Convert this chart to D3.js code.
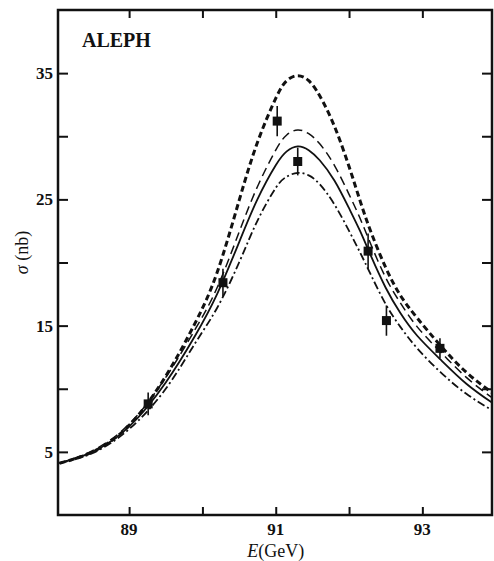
<!DOCTYPE html>
<html>
<head>
<meta charset="utf-8">
<script src="https://cdn.jsdelivr.net/npm/d3@7"></script>
<style>
  body { margin: 0; background: #fff; }
  svg { display: block; }
  text { font-family: "Liberation Serif", "DejaVu Serif", serif; fill: #111; }
</style>
</head>
<body>
<div id="chart"></div>
<script>
var energy = [88.05, 88.5, 89.0, 89.5, 89.9, 90.2, 90.5, 90.75, 91.0, 91.15, 91.3, 91.45,
              91.6, 91.8, 92.0, 92.15, 92.3, 92.5, 92.7, 92.93, 93.25, 93.6, 93.95];

// cross sections of the four curves (nb)
var heavyDash = [4.1, 5.0, 7.1, 11.0, 15.2, 19.2, 24.9, 29.5, 33.0, 34.4, 34.8, 34.4,
                 33.2, 30.8, 27.6, 24.9, 22.4, 19.6, 17.4, 15.6, 13.4, 11.3, 9.7];
var lightDash = [4.1, 5.1, 7.2, 10.9, 14.7, 18.0, 22.4, 26.0, 28.9, 30.1, 30.5, 30.2,
                 29.4, 27.7, 25.4, 23.5, 21.4, 18.8, 16.8, 14.9, 12.9, 10.9, 9.3];
var solid     = [4.1, 5.0, 7.0, 10.5, 14.2, 17.5, 21.6, 25.0, 27.7, 28.8, 29.2, 28.9,
                 28.1, 26.5, 24.3, 22.5, 20.5, 18.0, 16.0, 14.2, 12.3, 10.4, 8.9];
var dashDot   = [4.1, 4.9, 6.8, 10.0, 13.6, 16.4, 20.0, 23.3, 25.9, 26.8, 27.1, 26.9,
                 26.2, 24.6, 22.5, 20.8, 19.0, 16.7, 14.9, 13.2, 11.3, 9.6, 8.3];

// ALEPH measurements
var dataE   = [89.26, 90.28, 91.02, 91.30, 92.26, 92.51, 93.24];
var dataSig = [8.8, 18.4, 31.2, 28.0, 20.9, 15.4, 13.2];
var dataErr = [0.9, 1.1, 1.2, 1.1, 1.4, 1.2, 0.8];

// ticks
var xTicks = [89, 90, 91, 92, 93];
var xLabels = [89, 91, 93];
var yTicks = [5, 10, 15, 20, 25, 30, 35];
var yLabels = [5, 15, 25, 35];

// frame
var margin = { top: 10, right: 2, bottom: 46, left: 58 };
var W = 494, H = 561;
var width = W - margin.left - margin.right,
    height = H - margin.top - margin.bottom;

var svg = d3.select("#chart")
  .append("svg")
    .attr("width", W)
    .attr("height", H)
  .append("g")
    .attr("transform", "translate(" + margin.left + "," + margin.top + ")");

var x = d3.scaleLinear().domain([88.03, 93.95]).range([0, width]);
var y = d3.scaleLinear().domain([0, 40]).range([height, 0]);

svg.append("clipPath").attr("id", "clip")
  .append("rect").attr("width", width).attr("height", height);

// curves
var curves = [
  { vals: heavyDash, w: 3,   dash: "6,3.5" },
  { vals: lightDash, w: 1.5, dash: "9,5" },
  { vals: solid,     w: 1.8, dash: null },
  { vals: dashDot,   w: 1.8, dash: "8,3,2,3" }
];

var line = d3.line()
  .x(function(d) { return x(d[0]); })
  .y(function(d) { return y(d[1]); })
  .curve(d3.curveNatural);

svg.append("g").attr("clip-path", "url(#clip)")
  .selectAll("path")
  .data(curves)
  .enter()
  .append("path")
    .attr("d", function(c) { return line(energy.map(function(e, i) { return [e, c.vals[i]]; })); })
    .attr("fill", "none")
    .attr("stroke", "#111")
    .attr("stroke-width", function(c) { return c.w; })
    .attr("stroke-dasharray", function(c) { return c.dash; });

// data points with error bars
var pts = dataE.map(function(e, i) { return { e: e, s: dataSig[i], err: dataErr[i] }; });
var pg = svg.append("g").selectAll("g").data(pts).enter().append("g");
pg.append("line")
  .attr("x1", function(d) { return x(d.e); })
  .attr("x2", function(d) { return x(d.e); })
  .attr("y1", function(d) { return y(d.s - d.err); })
  .attr("y2", function(d) { return y(d.s + d.err); })
  .attr("stroke", "#111")
  .attr("stroke-width", 1.6);
pg.append("rect")
  .attr("x", function(d) { return x(d.e) - 4.5; })
  .attr("y", function(d) { return y(d.s) - 4.5; })
  .attr("width", 9)
  .attr("height", 9)
  .attr("fill", "#111");

// axes: ticks point inward on all four sides
var tl = 10;
svg.append("g").call(d3.axisLeft(y).tickValues(yTicks).tickSize(-tl).tickFormat(""));
svg.append("g").attr("transform", "translate(" + width + ",0)")
  .call(d3.axisRight(y).tickValues(yTicks).tickSize(-tl).tickFormat(""));
svg.append("g").attr("transform", "translate(0," + height + ")")
  .call(d3.axisBottom(x).tickValues(xTicks).tickSize(-8).tickFormat(""));
svg.append("g")
  .call(d3.axisTop(x).tickValues(xTicks).tickSize(-8).tickFormat(""));
svg.selectAll(".domain").remove();
svg.selectAll(".tick line").attr("stroke", "#111").attr("stroke-width", 2);

svg.append("rect")
  .attr("width", width)
  .attr("height", height)
  .attr("fill", "none")
  .attr("stroke", "#111")
  .attr("stroke-width", 2.5);

// tick labels
svg.selectAll(".ylab").data(yLabels).enter().append("text")
  .attr("class", "ylab")
  .attr("x", -5)
  .attr("y", function(d) { return y(d); })
  .attr("dy", "0.35em")
  .attr("text-anchor", "end")
  .attr("font-size", "17px")
  .attr("font-weight", "bold")
  .text(function(d) { return d; });

svg.selectAll(".xlab").data(xLabels).enter().append("text")
  .attr("class", "xlab")
  .attr("x", function(d) { return x(d); })
  .attr("y", height + 20)
  .attr("text-anchor", "middle")
  .attr("font-size", "17px")
  .attr("font-weight", "bold")
  .text(function(d) { return d; });

// titles
svg.append("text")
  .attr("x", 24)
  .attr("y", 37)
  .attr("font-size", "20px")
  .attr("font-weight", "bold")
  .text("ALEPH");

var xt = svg.append("text")
  .attr("x", x(91))
  .attr("y", height + 42)
  .attr("text-anchor", "middle")
  .attr("font-size", "18px");
xt.append("tspan").attr("font-style", "italic").text("E");
xt.append("tspan").text("(GeV)");

var yt = svg.append("text")
  .attr("transform", "translate(-30," + (y(20) - 10) + ") rotate(-90)")
  .attr("text-anchor", "middle")
  .attr("font-size", "18px");
yt.append("tspan").attr("font-style", "italic").text("σ");
yt.append("tspan").text(" (nb)");
</script>
</body>
</html>
